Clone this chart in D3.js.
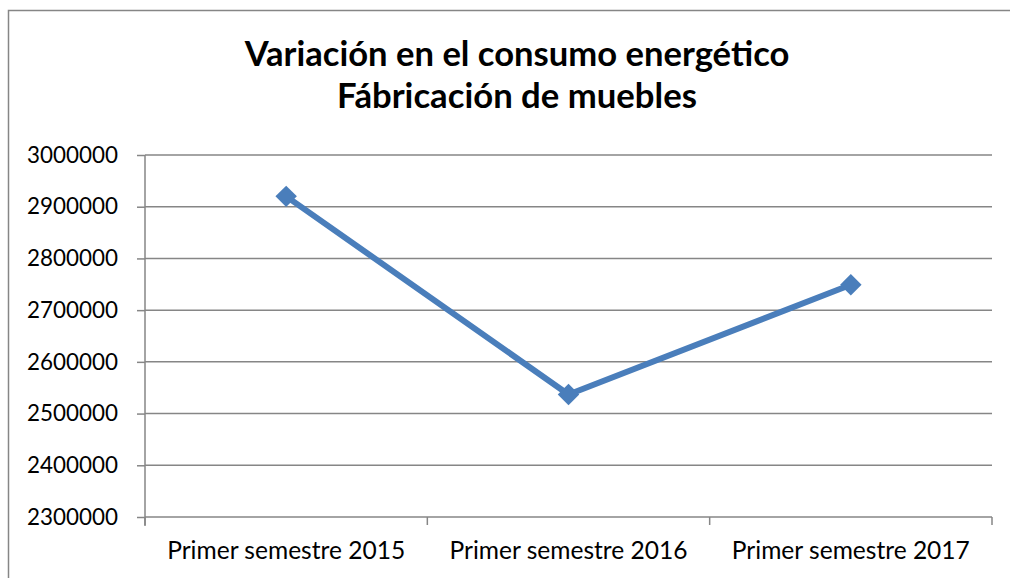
<!DOCTYPE html>
<meta charset="utf-8">
<style>
  body { margin: 0; background: #fff; }
  text { font-family: Lato, "Open Sans", sans-serif; fill: #000; }
</style>
<svg width="1010" height="578"></svg>
<script src="https://cdn.jsdelivr.net/npm/d3@7"></script>
<script>

var categories = ["Primer semestre 2015", "Primer semestre 2016", "Primer semestre 2017"],
    values = [2920000, 2537000, 2749000],
    yTicks = [2300000, 2400000, 2500000, 2600000, 2700000, 2800000, 2900000, 3000000],
    titleLines = ["Variación en el consumo energético", "Fábricación de muebles"];

var svg = d3.select("svg"),
    margin = {top: 155, right: 18, bottom: 61, left: 145},
    width = 1010 - margin.left - margin.right,
    height = 578 - margin.top - margin.bottom,
    grey = "#868686",
    blue = "#4a7ebb";

// chart border, runs off the right and bottom of the picture
svg.append("rect")
    .attr("x", 8.5).attr("y", 10.5)
    .attr("width", 1100).attr("height", 700)
    .attr("fill", "none").attr("stroke", grey).attr("stroke-width", 1.5);

// fit a text element to a target width by tuning its font size
function fit(sel, target) {
  sel.each(function() {
    var n = this, fs = parseFloat(n.getAttribute("font-size")), w = n.getComputedTextLength();
    if (w > 0) n.setAttribute("font-size", (fs * target / w).toFixed(2));
  });
}

svg.selectAll(".title")
    .data(titleLines)
  .enter().append("text")
    .attr("class", "title")
    .attr("x", 517)
    .attr("y", function(d, i) { return 66 + i * 42; })
    .attr("text-anchor", "middle")
    .attr("font-size", 30)
    .attr("font-weight", "bold")
    .text(function(d) { return d; });
fit(svg.selectAll(".title").filter(function(d, i) { return i === 0; }), 545);
fit(svg.selectAll(".title").filter(function(d, i) { return i === 1; }), 360);

var g = svg.append("g").attr("transform", "translate(" + margin.left + "," + margin.top + ")");

var x = d3.scaleBand().domain(categories).range([0, width]),
    y = d3.scaleLinear().domain([2300000, 3000000]).range([height, 0]);

// gridlines
g.append("g")
  .selectAll("line")
  .data(yTicks.slice(1))
  .enter().append("line")
    .attr("x1", 0).attr("x2", width)
    .attr("y1", function(d) { return y(d); })
    .attr("y2", function(d) { return y(d); })
    .attr("stroke", grey).attr("stroke-width", 1.5);

var yAxis = g.append("g")
    .call(d3.axisLeft(y).tickValues(yTicks).tickFormat(d3.format("d")).tickSize(8).tickPadding(19));

var xAxis = g.append("g")
    .attr("transform", "translate(0," + height + ")")
    .call(d3.axisBottom(x).tickSize(0).tickPadding(25));

// category boundary ticks
xAxis.selectAll(".bound")
    .data(d3.range(categories.length + 1))
  .enter().append("line")
    .attr("class", "bound")
    .attr("x1", function(i) { return i * x.step(); })
    .attr("x2", function(i) { return i * x.step(); })
    .attr("y1", 0).attr("y2", 8)
    .attr("stroke", grey).attr("stroke-width", 1.5);

[yAxis, xAxis].forEach(function(a) {
  a.selectAll("path, line").attr("stroke", grey).attr("stroke-width", 1.5);
  a.select(".domain").attr("stroke", grey);
  a.selectAll("text").attr("font-family", "Lato, sans-serif").attr("fill", "#000");
});
yAxis.selectAll("text").attr("font-size", 24);
fit(yAxis.selectAll("text"), 91);
xAxis.selectAll("text").attr("font-size", 23).attr("dy", "0.71em");
fit(xAxis.selectAll("text"), 238);
yAxis.select(".domain").attr("d", "M0," + (height + 9) + "V0");
xAxis.select(".domain").attr("d", "M0,0H" + width);

var line = d3.line()
    .x(function(d, i) { return x(categories[i]) + x.bandwidth() / 2; })
    .y(function(d) { return y(d); });

g.append("path")
    .datum(values)
    .attr("d", line)
    .attr("fill", "none")
    .attr("stroke", blue)
    .attr("stroke-width", 6)
    .attr("stroke-linejoin", "round");

g.selectAll(".marker")
    .data(values)
  .enter().append("path")
    .attr("class", "marker")
    .attr("transform", function(d, i) {
      return "translate(" + (x(categories[i]) + x.bandwidth() / 2) + "," + y(d) + ") rotate(45)";
    })
    .attr("d", d3.symbol(d3.symbolSquare, 230))
    .attr("fill", blue);

</script>
